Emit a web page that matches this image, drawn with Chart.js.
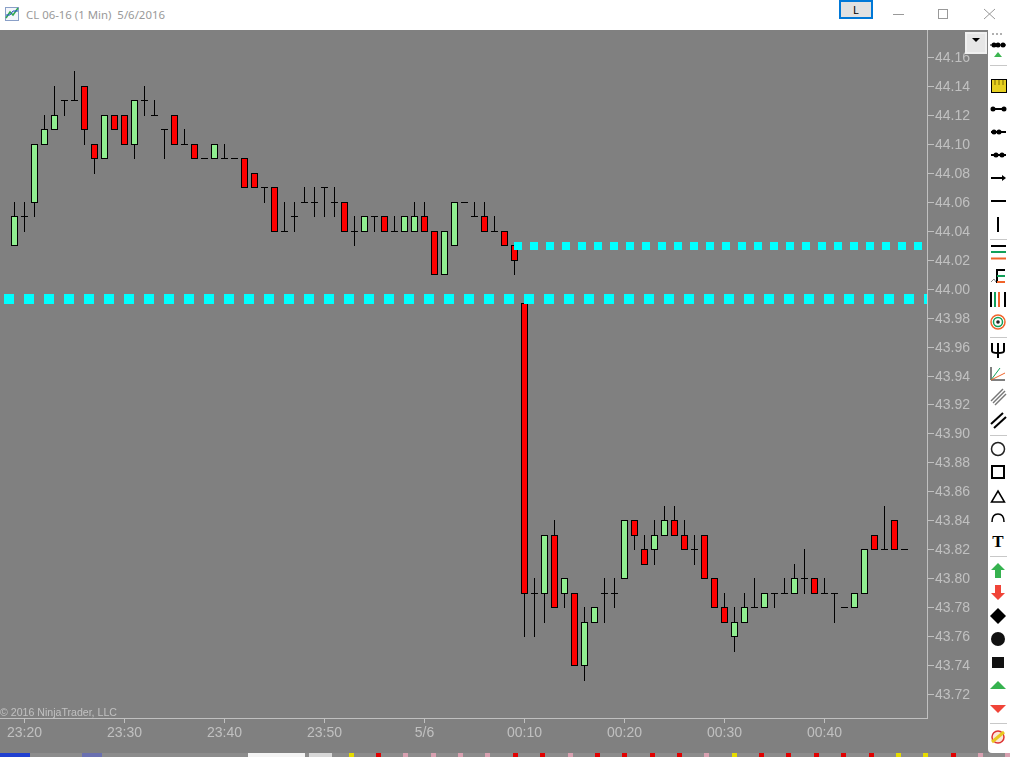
<!DOCTYPE html>
<html>
<head>
<meta charset="utf-8">
<title>CL 06-16 (1 Min)</title>
<script src="https://cdn.jsdelivr.net/npm/chart.js@4"></script>
<style>
    html, body { margin: 0; padding: 0; background: #fff; }
    body { position: relative; width: 1010px; height: 757px; overflow: hidden; font-family: "Liberation Sans", sans-serif; }
    .abs { position: absolute; }
    #fundo { left: 0; top: 30px; width: 1010px; height: 723px; background: #808080; }
    #myChart { position: absolute; left: 0; top: 30px; }
    #titulo { left: 26px; top: 7px; font: 11.4px/16px "Noto Sans", sans-serif; color: #999; white-space: pre; }
    #botaoL { left: 839px; top: 0; width: 30px; height: 15px; border: 2px solid #0078d7; background: #e1e1e1; font: 11px/15px "Noto Sans", sans-serif; text-align: center; color: #000; }
    #copyright { left: 0; top: 705px; font: 10.6px/14px "Liberation Sans", sans-serif; color: #c0c0c0; white-space: pre; }
    #menu { left: 965px; top: 32px; width: 18px; height: 18px; background: #e6e6e6; border: 2px solid #f0f0f0; }
    #rodape { left: 0; top: 753px; width: 1010px; height: 4px; background: #8c8c8c; overflow: hidden; }
    #rodape div { position: absolute; top: 0; height: 4px; }
</style>
</head>
<body>
<div id="fundo" class="abs"></div>
<canvas id="myChart" width="988" height="727"></canvas>

<!-- barra de titulo -->
<svg class="abs" style="left:0;top:0" width="24" height="24">
    <rect x="5.5" y="7.5" width="13" height="13" fill="#f4f6fb" stroke="#8aa0c8"/>
    <polyline points="6,18 10,12 13,15 18,8" fill="none" stroke="#2fa84f" stroke-width="1.5"/>
    <polyline points="6,15 10,15 13,11 18,11" fill="none" stroke="#2050c0" stroke-width="1"/>
</svg>
<div id="titulo" class="abs">CL 06-16 (1 Min)  5/6/2016</div>
<div id="botaoL" class="abs">L</div>
<svg class="abs" style="left:880px;top:0" width="130" height="30" fill="none" stroke="#999">
    <line x1="13" y1="14.5" x2="24" y2="14.5"/>
    <rect x="58.5" y="9.5" width="9" height="9"/>
    <line x1="104" y1="9" x2="115" y2="19"/>
    <line x1="115" y1="9" x2="104" y2="19"/>
</svg>

<div id="copyright" class="abs">© 2016 NinjaTrader, LLC</div>
<div id="menu" class="abs"></div>
<svg class="abs" style="left:965px;top:32px" width="22" height="22"><polygon points="7,6 15,6 11,10" fill="#000"/></svg>

<!-- barra de ferramentas da direita -->
<svg class="abs" style="left:988px;top:30px" width="22" height="723" viewBox="988 30 22 723">
    <path d="M988 30H1010V753H992Q988 753 988 749Z" fill="#fff"/>
    <g fill="#b0b0b0"><rect x="992" y="33" width="2" height="2"/><rect x="996" y="33" width="2" height="2"/><rect x="1000" y="33" width="2" height="2"/></g>
    <g stroke="#c8c8c8">
        <line x1="990" x2="1007" y1="65.5" y2="65.5"/><line x1="990" x2="1007" y1="239.5" y2="239.5"/>
        <line x1="990" x2="1007" y1="337.5" y2="337.5"/><line x1="990" x2="1007" y1="435.5" y2="435.5"/>
        <line x1="990" x2="1007" y1="556.5" y2="556.5"/><line x1="990" x2="1007" y1="723.5" y2="723.5"/>
    </g>
    <g stroke="#000" stroke-width="2" fill="#000">
        <line x1="990" x2="1006" y1="45" y2="45" stroke-width="1"/><circle cx="994" cy="45" r="1.5"/><circle cx="998" cy="45" r="1.5"/><circle cx="1003" cy="45" r="1.5"/>
        <line x1="991" x2="1006" y1="109" y2="109"/><circle cx="993" cy="109" r="1.5"/><circle cx="1004" cy="109" r="1.5"/>
        <line x1="991" x2="1006" y1="132" y2="132"/><circle cx="994" cy="132" r="1.5"/><circle cx="999" cy="132" r="1.5"/>
        <line x1="991" x2="1006" y1="155" y2="155"/><circle cx="996" cy="155" r="1.5"/><circle cx="1002" cy="155" r="1.5"/>
        <line x1="991" x2="1004" y1="178" y2="178"/><polygon points="1002,175 1006,178 1002,181" stroke="none"/>
        <line x1="991" x2="1006" y1="201" y2="201"/>
        <line x1="998" x2="998" y1="217" y2="232"/>
        <line x1="991" x2="1006" y1="246" y2="246"/>
    </g>
    <polygon points="994,57 998,52 1002,57" fill="#3cb550"/>
    <rect x="991.5" y="79.5" width="15" height="13" fill="#e6d020" stroke="#000"/>
    <g stroke="#7a6a00"><line x1="995" x2="995" y1="80" y2="85"/><line x1="999" x2="999" y1="80" y2="85"/><line x1="1003" x2="1003" y1="80" y2="85"/></g>
    <line x1="991" x2="1006" y1="252" y2="252" stroke="#12a05a" stroke-width="2"/>
    <line x1="991" x2="1006" y1="258.5" y2="258.5" stroke="#f0642a" stroke-width="2"/>
    <!-- fib -->
    <polyline points="991,282 994,279 996,282" fill="none" stroke="#888"/>
    <line x1="997" x2="997" y1="269" y2="283" stroke="#000" stroke-width="2"/>
    <line x1="997" x2="1005" y1="270" y2="270" stroke="#000" stroke-width="2"/>
    <line x1="997" x2="1005" y1="276" y2="276" stroke="#12a05a" stroke-width="2"/>
    <line x1="997" x2="1005" y1="282" y2="282" stroke="#f0642a" stroke-width="2"/>
    <g stroke-width="2">
        <line x1="991" x2="991" y1="292" y2="307" stroke="#000"/><line x1="995" x2="995" y1="292" y2="307" stroke="#12a05a"/>
        <line x1="999" x2="999" y1="292" y2="307" stroke="#f0642a"/><line x1="1005" x2="1005" y1="292" y2="307" stroke="#000"/>
    </g>
    <circle cx="998" cy="322" r="7" fill="none" stroke="#f0642a" stroke-width="1.5"/>
    <circle cx="998" cy="322" r="4.5" fill="none" stroke="#12a05a" stroke-width="1.5"/>
    <circle cx="998" cy="322" r="1.8" fill="#222"/>
    <path d="M992 343V351Q992 353 998 353Q1004 353 1004 351V343M998 343V358" fill="none" stroke="#000" stroke-width="2"/>
    <line x1="991" x2="991" y1="367" y2="380" stroke="#000"/><line x1="991" x2="1005" y1="380" y2="380" stroke="#000"/>
    <line x1="991" x2="1000" y1="380" y2="368" stroke="#12a05a"/><line x1="991" x2="1005" y1="380" y2="373" stroke="#f0642a"/>
    <g stroke="#777" stroke-width="1.5"><line x1="991" x2="1003" y1="401" y2="389"/><line x1="993" x2="1005" y1="403" y2="391"/><line x1="995" x2="1006" y1="405" y2="394"/></g>
    <g stroke="#000" stroke-width="2"><line x1="991" x2="1003" y1="424" y2="413"/><line x1="994" x2="1006" y1="428" y2="417"/></g>
    <circle cx="998" cy="449" r="6.5" fill="none" stroke="#222" stroke-width="1.5"/>
    <rect x="992" y="466" width="12" height="12" fill="none" stroke="#000" stroke-width="2"/>
    <polygon points="998,491 1004.5,502 991.5,502" fill="none" stroke="#000" stroke-width="1.5"/>
    <path d="M992 522Q992 514 998 514Q1004 514 1004 522" fill="none" stroke="#000" stroke-width="1.5"/>
    <text x="998" y="547" text-anchor="middle" font-family="Liberation Serif" font-weight="bold" font-size="17" fill="#000">T</text>
    <polygon points="998,563 1005,570 1001,570 1001,578 995,578 995,570 991,570" fill="#36b24f"/>
    <polygon points="998,600 1005,593 1001,593 1001,585 995,585 995,593 991,593" fill="#f04438"/>
    <polygon points="998,608 1006,616 998,624 990,616" fill="#000"/>
    <circle cx="998" cy="639" r="7" fill="#111"/>
    <rect x="992" y="657" width="12" height="11" fill="#111"/>
    <polygon points="990,689 998,681 1006,689" fill="#36b24f"/>
    <polygon points="990,705 1006,705 998,713" fill="#f04438"/>
    <circle cx="998" cy="737" r="6" fill="#fbe6d8" stroke="#d33" stroke-width="1.5"/>
    <line x1="992" x2="1004" y1="742" y2="732" stroke="#e8c820" stroke-width="3"/>
</svg>

<div id="rodape" class="abs"></div>

<script>
// candles de 1 minuto, de 23:19 ate 00:48
const categories = [
    '23:19', '23:20', '23:21', '23:22', '23:23', '23:24', '23:25', '23:26', '23:27', '23:28',
    '23:29', '23:30', '23:31', '23:32', '23:33', '23:34', '23:35', '23:36', '23:37', '23:38',
    '23:39', '23:40', '23:41', '23:42', '23:43', '23:44', '23:45', '23:46', '23:47', '23:48',
    '23:49', '23:50', '23:51', '23:52', '23:53', '23:54', '23:55', '23:56', '23:57', '23:58',
    '23:59', '00:00', '00:01', '00:02', '00:03', '00:04', '00:05', '00:06', '00:07', '00:08',
    '00:09', '00:10', '00:11', '00:12', '00:13', '00:14', '00:15', '00:16', '00:17', '00:18',
    '00:19', '00:20', '00:21', '00:22', '00:23', '00:24', '00:25', '00:26', '00:27', '00:28',
    '00:29', '00:30', '00:31', '00:32', '00:33', '00:34', '00:35', '00:36', '00:37', '00:38',
    '00:39', '00:40', '00:41', '00:42', '00:43', '00:44', '00:45', '00:46', '00:47', '00:48'
];
const opens = [
    44.03, 44.05, 44.06, 44.10, 44.11, 44.13, 44.13, 44.14, 44.10, 44.09,
    44.12, 44.12, 44.10, 44.13, 44.12, 44.11, 44.12, 44.10, 44.10, 44.09,
    44.09, 44.09, 44.09, 44.09, 44.08, 44.07, 44.07, 44.04, 44.05, 44.06,
    44.06, 44.07, 44.06, 44.06, 44.04, 44.04, 44.05, 44.05, 44.04, 44.04,
    44.04, 44.05, 44.04, 44.01, 44.03, 44.06, 44.05, 44.05, 44.04, 44.04,
    44.03, 43.99, 43.79, 43.79, 43.83, 43.79, 43.79, 43.74, 43.77, 43.79,
    43.79, 43.80, 43.84, 43.82, 43.82, 43.83, 43.84, 43.83, 43.82, 43.83,
    43.80, 43.78, 43.76, 43.77, 43.78, 43.78, 43.79, 43.79, 43.79, 43.80,
    43.80, 43.79, 43.79, 43.78, 43.78, 43.79, 43.83, 43.82, 43.84, 43.82
];
const closes = [
    44.05, 44.05, 44.10, 44.11, 44.12, 44.13, 44.13, 44.11, 44.09, 44.12,
    44.11, 44.10, 44.13, 44.13, 44.12, 44.11, 44.10, 44.10, 44.09, 44.09,
    44.10, 44.09, 44.09, 44.07, 44.07, 44.07, 44.04, 44.04, 44.05, 44.06,
    44.06, 44.07, 44.06, 44.04, 44.04, 44.05, 44.05, 44.04, 44.04, 44.05,
    44.05, 44.04, 44.01, 44.04, 44.06, 44.06, 44.05, 44.04, 44.04, 44.03,
    44.02, 43.79, 43.79, 43.83, 43.78, 43.80, 43.74, 43.77, 43.78, 43.79,
    43.79, 43.84, 43.83, 43.81, 43.83, 43.84, 43.83, 43.82, 43.82, 43.80,
    43.78, 43.77, 43.77, 43.78, 43.78, 43.79, 43.79, 43.79, 43.80, 43.80,
    43.79, 43.79, 43.79, 43.78, 43.79, 43.82, 43.82, 43.82, 43.82, 43.82
];
const highs = [
    44.06, 44.06, 44.10, 44.12, 44.14, 44.13, 44.15, 44.14, 44.10, 44.12,
    44.12, 44.12, 44.13, 44.14, 44.13, 44.11, 44.12, 44.11, 44.10, 44.09,
    44.10, 44.10, 44.09, 44.09, 44.08, 44.07, 44.07, 44.06, 44.06, 44.07,
    44.07, 44.07, 44.07, 44.06, 44.05, 44.05, 44.05, 44.05, 44.05, 44.05,
    44.06, 44.06, 44.04, 44.04, 44.06, 44.06, 44.06, 44.06, 44.05, 44.04,
    44.03, 43.99, 43.80, 43.83, 43.84, 43.80, 43.79, 43.78, 43.78, 43.80,
    43.80, 43.84, 43.84, 43.83, 43.84, 43.85, 43.85, 43.84, 43.83, 43.83,
    43.80, 43.79, 43.78, 43.79, 43.80, 43.79, 43.79, 43.80, 43.81, 43.82,
    43.80, 43.80, 43.79, 43.78, 43.79, 43.82, 43.83, 43.85, 43.84, 43.82
];
const lows = [
    44.03, 44.04, 44.05, 44.10, 44.11, 44.12, 44.13, 44.10, 44.08, 44.09,
    44.11, 44.10, 44.09, 44.12, 44.12, 44.09, 44.10, 44.10, 44.09, 44.09,
    44.09, 44.09, 44.09, 44.07, 44.07, 44.06, 44.04, 44.04, 44.04, 44.06,
    44.05, 44.05, 44.05, 44.04, 44.03, 44.04, 44.04, 44.04, 44.04, 44.04,
    44.04, 44.04, 44.01, 44.01, 44.03, 44.06, 44.05, 44.04, 44.04, 44.03,
    44.01, 43.76, 43.76, 43.77, 43.78, 43.78, 43.74, 43.73, 43.77, 43.77,
    43.78, 43.80, 43.82, 43.81, 43.81, 43.83, 43.83, 43.82, 43.81, 43.80,
    43.78, 43.77, 43.75, 43.77, 43.78, 43.78, 43.78, 43.79, 43.79, 43.79,
    43.79, 43.79, 43.77, 43.78, 43.78, 43.79, 43.82, 43.82, 43.82, 43.82
];

// niveis pontilhados (ciano)
const nivelAlto = 44.0293;
const nivelBaixo = 43.9927;
const nivelAltoInicio = 1448.95;
const nivelAltoFim = 1489.75;
const nivelBaixoInicio = 1397.95;

const tickLabels = ['23:20', '23:30', '23:40', '23:50', '5/6', '00:10', '00:20', '00:30', '00:40'];

const primeiroMinuto = 1399; // 23:19 em minutos
const xMin = 1397.55;
const xMax = 1490.25;
const yMin = 43.7035;
const yMax = 44.1786;
const umPixel = (yMax - yMin) / 688;

// cores da barra: verde sobe, vermelho desce
const verde = '#90ee90';
const vermelho = '#ff0000';
const cinzaEixo = '#c0c0c0';

function faixa(a, b) {
    return [Math.min(a, b) - umPixel, Math.max(a, b)];
}

let corpos = [];
let coresCorpos = [];
let tracos = [];
let pavios = [];

categories.forEach((hora, i) => {
    let x = primeiroMinuto + i;
    pavios.push({ x: x, y: faixa(lows[i], highs[i]) });
    if (opens[i] == closes[i]) {
        tracos.push({ x: x, y: faixa(closes[i], closes[i]) });
    } else {
        corpos.push({ x: x, y: faixa(opens[i], closes[i]) });
        coresCorpos.push(closes[i] > opens[i] ? verde : vermelho);
    }
});

// arredonda os precos para a linha de pixel, como o grafico original
const alinhaPreco = {
    id: 'alinhaPreco',
    afterLayout(chart) {
        let y = chart.scales.y;
        let original = Object.getPrototypeOf(y).getPixelForValue;
        y.getPixelForValue = (v) => Math.round(original.call(y, v));
    }
};

const config = {
    type: 'bar',
    data: {
        datasets: [
            {
                type: 'line',
                order: 0,
                data: [{ x: nivelAltoInicio, y: nivelAlto }, { x: nivelAltoFim, y: nivelAlto }],
                borderColor: '#00ffff',
                borderWidth: 8,
                borderDash: [8, 8],
                pointRadius: 0
            },
            {
                type: 'line',
                order: 0,
                data: [{ x: nivelBaixoInicio, y: nivelBaixo }, { x: xMax, y: nivelBaixo }],
                borderColor: '#00ffff',
                borderWidth: 10,
                borderDash: [10, 10],
                pointRadius: 0
            },
            {
                order: 1,
                data: corpos,
                grouped: false,
                barThickness: 7,
                backgroundColor: coresCorpos,
                borderColor: '#000',
                borderWidth: 1,
                borderSkipped: false,
                inflateAmount: 0
            },
            {
                order: 2,
                data: tracos,
                grouped: false,
                barThickness: 7,
                backgroundColor: '#000',
                inflateAmount: 0
            },
            {
                order: 3,
                data: pavios,
                grouped: false,
                barThickness: 1,
                backgroundColor: '#000',
                inflateAmount: 0
            }
        ]
    },
    plugins: [alinhaPreco],
    options: {
        responsive: false,
        animation: false,
        events: [],
        layout: { padding: 0 },
        plugins: {
            legend: { display: false },
            tooltip: { enabled: false }
        },
        scales: {
            x: {
                type: 'linear',
                offset: false,
                min: xMin,
                max: xMax,
                afterBuildTicks(scale) {
                    scale.ticks = scale.ticks.filter(t => t.value <= 1480);
                },
                afterFit(scale) {
                    scale.height = 39;
                    scale.paddingLeft = 0;
                    scale.paddingRight = 0;
                },
                border: { color: cinzaEixo, width: 1 },
                grid: { offset: false, drawOnChartArea: false, color: cinzaEixo, tickLength: 5 },
                ticks: {
                    stepSize: 10,
                    includeBounds: false,
                    autoSkip: false,
                    maxRotation: 0,
                    padding: 2,
                    color: cinzaEixo,
                    font: { family: 'Liberation Sans', size: 14 },
                    callback: (v) => tickLabels[(v - 1400) / 10]
                }
            },
            y: {
                position: 'right',
                min: yMin,
                max: yMax,
                afterFit(scale) {
                    scale.width = 61;
                    scale.paddingTop = 0;
                    scale.paddingBottom = 0;
                },
                border: { color: cinzaEixo, width: 1 },
                grid: { drawOnChartArea: false, color: cinzaEixo, tickLength: 7 },
                ticks: {
                    stepSize: 0.02,
                    includeBounds: false,
                    autoSkip: false,
                    padding: 1,
                    labelOffset: 1,
                    color: cinzaEixo,
                    font: { family: 'Liberation Sans', size: 14 },
                    callback: (v) => v.toFixed(2)
                }
            }
        }
    }
};

const myChart = new Chart(document.getElementById('myChart'), config);

// resto da barra de tarefas que aparece cortado embaixo
const marcasVermelhas = [376, 513, 540, 595, 622, 650, 677, 759, 786, 814, 841, 869, 951];
const marcasRosa = [403, 431, 458, 485, 568, 704, 978, 1005];
const marcasAmarelas = [349, 732, 896, 923];

function adicionaMarca(x, largura, cor) {
    let d = document.createElement('div');
    d.style.left = x + 'px';
    d.style.width = largura + 'px';
    d.style.background = cor;
    document.getElementById('rodape').appendChild(d);
}
marcasVermelhas.forEach(x => adicionaMarca(x, 5, '#e00000'));
marcasRosa.forEach(x => adicionaMarca(x, 5, '#d8a0b0'));
marcasAmarelas.forEach(x => adicionaMarca(x, 5, '#e6dc00'));
adicionaMarca(0, 30, '#2040d0');
adicionaMarca(82, 20, '#6a70b0');
adicionaMarca(248, 57, '#f4f4f4');
adicionaMarca(309, 23, '#d8d8d8');
</script>
</body>
</html>
